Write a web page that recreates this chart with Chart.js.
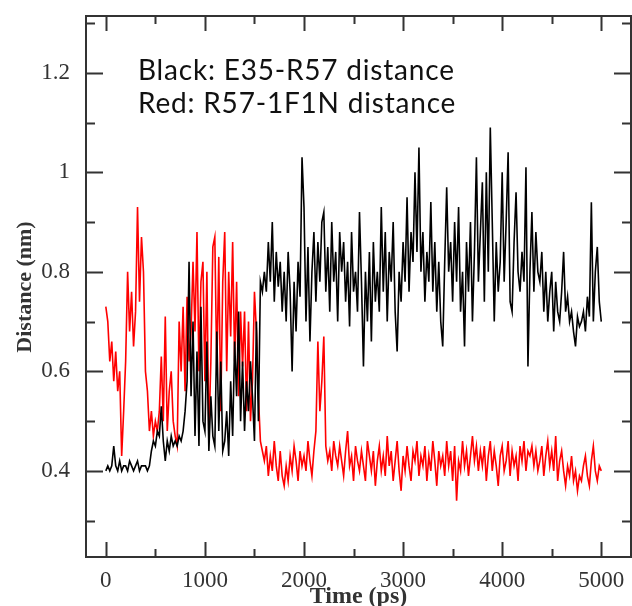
<!DOCTYPE html>
<html>
<head>
<meta charset="utf-8">
<script src="https://cdn.jsdelivr.net/npm/chart.js@4.4.1/dist/chart.umd.min.js"></script>
<style>
  html, body { margin: 0; padding: 0; background: #fff; }
  #wrap { width: 632px; height: 606px; position: relative; }
</style>
</head>
<body>
<div id="wrap"><canvas id="chart"></canvas></div>
<script>
// frames every 20 ps, 0 .. 5000 ps
var dt = 20

// E35-R57 distance (nm)
var black = [
  0.40,0.41,0.40,0.41,0.45,0.41,0.40,0.42,0.40,0.41,
  0.41,0.40,0.42,0.41,0.40,0.41,0.42,0.40,0.41,0.41,
  0.41,0.40,0.41,0.44,0.46,0.45,0.48,0.47,0.53,0.46,
  0.42,0.46,0.44,0.47,0.45,0.46,0.45,0.47,0.46,0.48,
  0.52,0.58,0.82,0.55,0.70,0.47,0.64,0.45,0.73,0.50,
  0.48,0.66,0.44,0.55,0.47,0.45,0.68,0.48,0.62,0.44,
  0.46,0.52,0.43,0.58,0.47,0.66,0.55,0.72,0.50,0.62,
  0.48,0.58,0.52,0.62,0.55,0.46,0.70,0.50,0.78,0.76,
  0.80,0.76,0.86,0.78,0.90,0.74,0.84,0.77,0.82,0.72,
  0.80,0.70,0.84,0.76,0.60,0.78,0.68,0.82,0.75,1.03,
  0.93,0.70,0.85,0.66,0.80,0.88,0.74,0.86,0.78,0.90,
  0.92,0.76,0.85,0.72,0.90,0.78,0.84,0.70,0.88,0.80,
  0.86,0.74,0.82,0.69,0.88,0.76,0.80,0.72,0.92,0.78,
  0.61,0.80,0.70,0.84,0.66,0.86,0.74,0.80,0.72,0.93,
  0.76,0.88,0.70,0.84,0.78,0.90,0.72,0.64,0.80,0.74,
  0.86,0.78,0.95,0.76,0.88,0.82,1.00,0.84,1.05,0.80,
  0.88,0.74,0.84,0.78,0.94,0.76,0.86,0.72,0.82,0.70,
  0.65,0.82,0.97,0.80,0.86,0.74,0.90,0.78,0.93,0.72,
  0.80,0.65,0.86,0.76,0.90,0.70,0.84,1.03,0.78,0.88,
  0.98,0.74,1.00,0.80,1.09,0.90,0.70,0.86,0.76,0.82,
  1.00,0.78,0.90,1.04,0.74,0.72,0.86,0.96,0.80,0.76,
  0.84,0.78,1.01,0.61,0.80,0.92,0.76,0.88,0.80,0.78,
  0.84,0.72,0.80,0.70,0.76,0.80,0.68,0.78,0.72,0.70,
  0.76,0.84,0.72,0.75,0.70,0.72,0.68,0.65,0.71,0.69,
  0.70,0.72,0.68,0.75,0.71,0.94,0.70,0.80,0.85,0.74,
  0.70
]

// R57-1F1N distance (nm)
var red = [
  0.73,0.70,0.62,0.66,0.58,0.64,0.56,0.60,0.43,0.52,
  0.62,0.80,0.68,0.76,0.65,0.72,0.93,0.74,0.87,0.80,
  0.60,0.56,0.48,0.52,0.47,0.50,0.48,0.52,0.63,0.50,
  0.71,0.48,0.56,0.60,0.50,0.47,0.45,0.70,0.60,0.73,
  0.56,0.75,0.62,0.68,0.82,0.68,0.88,0.60,0.78,0.82,
  0.58,0.80,0.47,0.62,0.85,0.87,0.60,0.83,0.52,0.78,
  0.88,0.60,0.80,0.67,0.86,0.62,0.78,0.55,0.72,0.61,
  0.72,0.52,0.70,0.50,0.58,0.76,0.68,0.55,0.46,0.44,
  0.42,0.45,0.39,0.43,0.40,0.46,0.41,0.38,0.44,0.39,
  0.37,0.41,0.38,0.43,0.40,0.45,0.42,0.38,0.44,0.41,
  0.43,0.40,0.46,0.42,0.39,0.44,0.48,0.66,0.52,0.58,
  0.67,0.45,0.42,0.44,0.40,0.46,0.43,0.41,0.45,0.42,
  0.39,0.44,0.48,0.41,0.43,0.38,0.45,0.42,0.40,0.44,
  0.41,0.38,0.46,0.43,0.40,0.44,0.37,0.42,0.45,0.40,
  0.43,0.39,0.47,0.41,0.44,0.38,0.42,0.46,0.40,0.36,
  0.43,0.40,0.45,0.41,0.38,0.44,0.42,0.46,0.39,0.43,
  0.41,0.45,0.38,0.43,0.40,0.46,0.42,0.37,0.44,0.41,
  0.43,0.39,0.46,0.41,0.44,0.38,0.45,0.34,0.42,0.40,
  0.46,0.41,0.44,0.39,0.43,0.47,0.42,0.45,0.40,0.44,
  0.41,0.45,0.38,0.43,0.46,0.40,0.44,0.41,0.37,0.43,
  0.45,0.40,0.42,0.46,0.39,0.44,0.41,0.43,0.38,0.45,
  0.42,0.46,0.40,0.44,0.43,0.45,0.41,0.44,0.40,0.42,
  0.45,0.39,0.43,0.46,0.41,0.44,0.40,0.47,0.38,0.42,
  0.44,0.40,0.37,0.41,0.39,0.43,0.38,0.40,0.36,0.39,
  0.38,0.41,0.43,0.39,0.37,0.42,0.45,0.40,0.38,0.41,
  0.40
]

var xTicks = [0, 1000, 2000, 3000, 4000, 5000]
var yTicks = [0.4, 0.6, 0.8, 1, 1.2]
var notes = ["Black: E35-R57 distance", "Red: R57-1F1N distance"]

function pts(arr) {
    return arr.map(function(v, i){ return {x: i * dt, y: v} })
}

var ink = "#333"
var serif = "'Liberation Serif', 'Times New Roman', serif"

// frame, inward ticks on all four sides, axis titles and the note
var grace = {
    id: "grace",
    afterDraw: function(chart) {
        var ctx = chart.ctx, a = chart.chartArea
        var sx = chart.scales.x, sy = chart.scales.y
        ctx.save()
        ctx.strokeStyle = ink
        ctx.lineWidth = 2
        ctx.strokeRect(a.left, a.top, a.right - a.left, a.bottom - a.top)

        function xt(v, len) {
            var p = Math.round(sx.getPixelForValue(v)) + 0.5
            ctx.beginPath()
            ctx.moveTo(p, a.bottom); ctx.lineTo(p, a.bottom - len)
            ctx.moveTo(p, a.top); ctx.lineTo(p, a.top + len)
            ctx.stroke()
        }
        function yt(v, len) {
            var p = Math.round(sy.getPixelForValue(v)) + 0.5
            ctx.beginPath()
            ctx.moveTo(a.left, p); ctx.lineTo(a.left + len, p)
            ctx.moveTo(a.right, p); ctx.lineTo(a.right - len, p)
            ctx.stroke()
        }
        xTicks.forEach(function(v, i){
            xt(v, 15)
            if (i < xTicks.length - 1) xt((v + xTicks[i+1]) / 2, 8)
        })
        yTicks.forEach(function(v, i){
            yt(v, 17)
            yt(v - 0.1, 9)
        })
        yt(1.3, 9)

        // axis titles
        ctx.fillStyle = ink
        ctx.textAlign = "center"
        ctx.textBaseline = "middle"
        ctx.font = "bold 24px " + serif
        ctx.fillText("Time (ps)", (a.left + a.right) / 2, 597)
        ctx.translate(25, 287)
        ctx.rotate(-Math.PI / 2)
        ctx.font = "bold 22px " + serif
        ctx.fillText("Distance (nm)", 0, 0)
        ctx.restore()

        // legend note
        ctx.save()
        ctx.fillStyle = "#111"
        ctx.font = "28px Lato, 'Open Sans', sans-serif"
        ctx.letterSpacing = "0.8px"
        ctx.textAlign = "left"
        ctx.textBaseline = "alphabetic"
        ctx.fillText(notes[0], 138, 80)
        ctx.fillText(notes[1], 138, 113)
        ctx.restore()
    }
}

new Chart(document.getElementById("chart"), {
    type: "line",
    data: {
        datasets: [{
            label: "E35-R57",
            data: pts(black),
            borderColor: "#000",
            borderWidth: 1.6,
            pointRadius: 0,
            tension: 0
        }, {
            label: "R57-1F1N",
            data: pts(red),
            borderColor: "#ff0000",
            borderWidth: 1.6,
            pointRadius: 0,
            tension: 0
        }]
    },
    options: {
        responsive: true,
        maintainAspectRatio: false,
        animation: false,
        layout: {padding: {top: 16, right: 1, left: 0, bottom: 0}},
        plugins: {
            legend: {display: false},
            tooltip: {enabled: false}
        },
        scales: {
            x: {
                type: "linear",
                min: -200,
                max: 5300,
                grid: {display: false},
                border: {display: false},
                afterBuildTicks: function(s){ s.ticks = xTicks.map(function(v){ return {value: v} }) },
                afterFit: function(s){ s.height = 49; s.paddingLeft = 0; s.paddingRight = 0 },
                ticks: {
                    color: ink,
                    font: {family: serif, size: 23},
                    padding: 2,
                    maxRotation: 0,
                    callback: function(v){ return String(v) }
                }
            },
            y: {
                min: 0.227,
                max: 1.314,
                grid: {display: false},
                border: {display: false},
                afterBuildTicks: function(s){ s.ticks = yTicks.map(function(v){ return {value: v} }) },
                afterFit: function(s){ s.width = 86; s.paddingTop = 0; s.paddingBottom = 0 },
                ticks: {
                    color: ink,
                    font: {family: serif, size: 23},
                    padding: 8,
                    callback: function(v){ return String(v) }
                }
            }
        }
    },
    plugins: [grace]
})
</script>
</body>
</html>
